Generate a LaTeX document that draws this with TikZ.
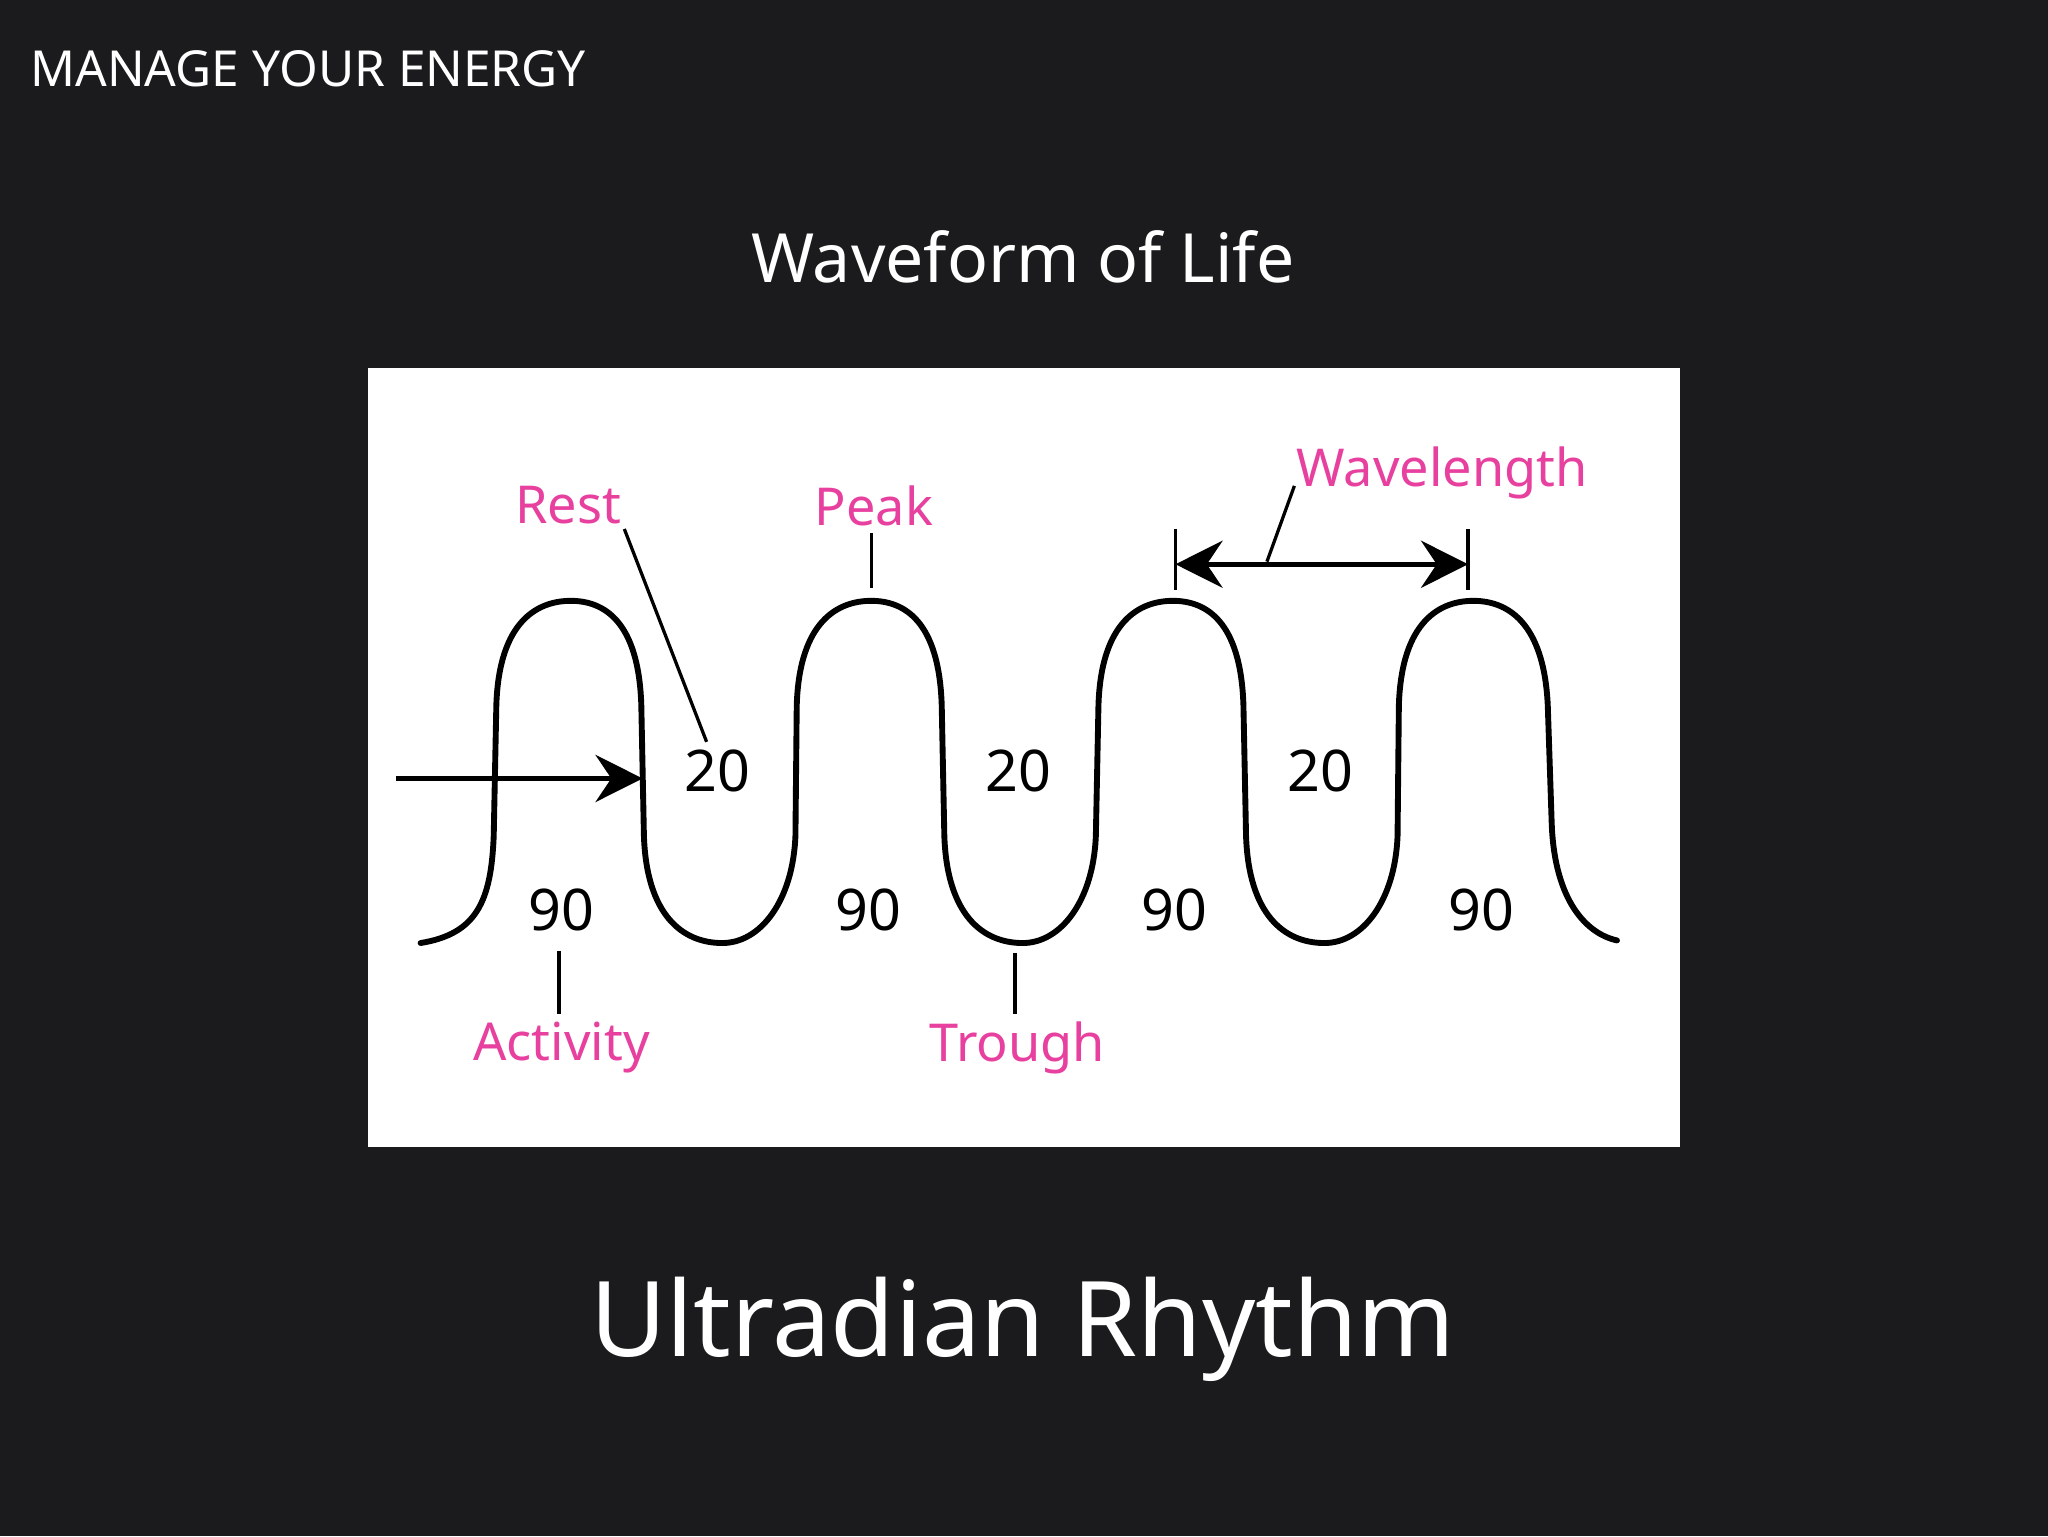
\documentclass[tikz,border=0pt]{standalone}
\usepackage{fontspec}
\setmainfont{Noto Sans}
\usetikzlibrary{arrows.meta}
\definecolor{bg}{HTML}{1B1A1C}
\definecolor{pink}{HTML}{E8409F}
\begin{document}
\begin{tikzpicture}[x=1pt,y=-1pt,
  lab/.style={text=pink,font=\fontsize{40}{40}\selectfont\bfseries,inner sep=0},
  num/.style={text=black,font=\fontsize{44}{44}\selectfont\bfseries,inner sep=0},
  wv/.style={line width=4.5pt,line join=round,line cap=round}]
\fill[bg] (0,0) rectangle (1568,1176);
\useasboundingbox (0,0) rectangle (1568,1176);
\fill[white] (282,282) rectangle (1286,878);
\node[anchor=west,text=white,font=\fontsize{38}{38}\selectfont,inner sep=0] (hdr) at (23,53) {MANAGE YOUR ENERGY};
\node[text=white,font=\fontsize{52}{52}\selectfont\bfseries,inner sep=0] (title) at (783,197) {Waveform of Life};
\node[text=white,font=\fontsize{80}{80}\selectfont\bfseries,inner sep=0] (sub) at (783,1018) {Ultradian Rhythm};
% wave
\draw[wv] (322,722) .. controls (365,715) and (376,690) .. (378,640)
 \foreach \p in {437,667,898} {
  -- (\p-57,540) .. controls (\p-55,475) and (\p-25,460) .. (\p,460)
  .. controls (\p+25,460) and (\p+52,475) .. (\p+54,540) -- (\p+56,640)
  .. controls (\p+58,700) and (\p+85,722) .. (\p+116,722)
  .. controls (\p+145,722) and (\p+170,690) .. (\p+172,640) }
  -- (1071,540) .. controls (1073,475) and (1103,460) .. (1128,460)
  .. controls (1153,460) and (1182,475) .. (1185,540) -- (1188,630)
  .. controls (1190,690) and (1215,715) .. (1238,720);
% numbers
\foreach \x/\n in {549/a,780/b,1011/c} \node[num] (t\n) at (\x,590) {20};
\foreach \x/\n in {430/a,665/b,899/c,1134/d} \node[num] (n\n) at (\x,697) {90};
% labels
\node[lab] (rest) at (435,387) {Rest};
\node[lab] (peak) at (669,387) {Peak};
\node[lab] (wl) at (1104,362) {Wavelength};
\node[lab] (act) at (430,802) {Activity};
\node[lab] (tr) at (779,802) {Trough};
\coordinate (ra) at (478,405); \coordinate (rb) at (541,568);
\draw[line width=2.5pt] (ra) -- (rb);
\coordinate (pa) at (667,408); \coordinate (pb) at (667,450);
\draw[line width=2.5pt] (pa) -- (pb);
\coordinate (aa) at (428,728); \coordinate (ab) at (428,776);
\draw[line width=2.5pt] (aa) -- (ab);
\coordinate (ta) at (777,730); \coordinate (tb) at (777,776);
\draw[line width=2.5pt] (ta) -- (tb);
\coordinate (wa) at (991,372); \coordinate (wb) at (970,430);
\draw[line width=2.5pt] (wa) -- (wb);
% arrows
\coordinate (s1) at (303,596); \coordinate (s2) at (492,596);
\draw[line width=4pt,-{Stealth[length=36pt,width=36pt,inset=12pt]}] (s1) -- (s2);
\coordinate (w1) at (900,432); \coordinate (w2) at (1124,432);
\draw[line width=4pt,{Stealth[length=36pt,width=36pt,inset=12pt]}-{Stealth[length=36pt,width=36pt,inset=12pt]}] (w1) -- (w2);
\coordinate (k1) at (900,405); \coordinate (k2) at (900,452);
\coordinate (k3) at (1124,405); \coordinate (k4) at (1124,452);
\draw[line width=2.5pt] (k1) -- (k2) (k3) -- (k4);
\end{tikzpicture}
\end{document}
